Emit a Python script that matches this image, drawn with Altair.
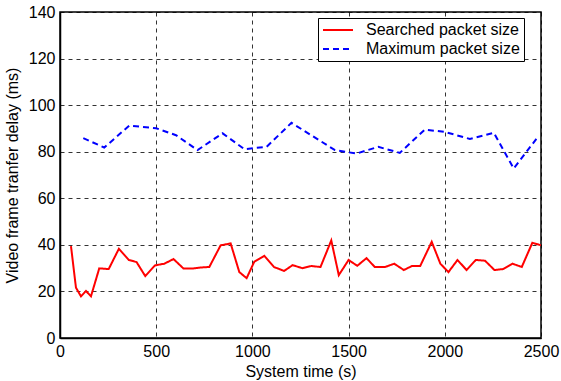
import altair as alt
import pandas as pd

# Searched packet size (red, solid)
red_t = [57, 83, 109, 135, 161, 204, 253, 306, 358, 398, 443, 494, 542, 590, 641, 693, 736, 776,
         835, 887, 932, 970, 1010, 1062, 1112, 1165, 1209, 1259, 1306, 1354, 1410, 1449, 1500, 1545,
         1593, 1636, 1690, 1737, 1787, 1829, 1872, 1932, 1977, 2019, 2066, 2113, 2161, 2209, 2258,
         2303, 2352, 2400, 2455, 2500]
red_v = [39.5, 21.6, 17.9, 20.2, 17.9, 29.9, 29.6, 38.3, 33.5, 32.6, 26.6, 31.2, 31.9, 33.9, 29.9,
         29.9, 30.3, 30.5, 39.8, 40.6, 28.3, 25.7, 32.8, 35.3, 30.5, 28.8, 31.3, 30.0, 30.9, 30.5,
         41.9, 27.0, 33.5, 31.0, 34.3, 30.5, 30.5, 31.9, 29.2, 30.9, 30.9, 41.3, 31.9, 28.3, 33.5,
         29.2, 33.5, 33.2, 29.2, 29.6, 31.9, 30.5, 40.9, 39.8]

# Maximum packet size (blue, dashed)
blue_t = [121, 230, 360, 499, 603, 715, 845, 958, 1074, 1203, 1429, 1541, 1654, 1766, 1896, 2000,
          2130, 2255, 2358, 2476]
blue_v = [85.8, 81.8, 91.2, 90.1, 87.1, 80.7, 87.9, 81.1, 82.1, 92.4, 80.7, 79.2, 82.1, 79.5, 89.5,
          88.5, 85.5, 88.1, 72.8, 85.5]

series_names = ["Searched packet size", "Maximum packet size"]

df = pd.concat([
    pd.DataFrame({"t": red_t, "v": red_v, "s": series_names[0], "o": range(len(red_t))}),
    pd.DataFrame({"t": blue_t, "v": blue_v, "s": series_names[1], "o": range(len(blue_t))}),
])

FONT = "Liberation Sans"

chart = alt.Chart(df).mark_line(strokeWidth=2, clip=True).encode(
    x=alt.X("t:Q", title="System time (s)",
            scale=alt.Scale(domain=[0, 2500], nice=False),
            axis=alt.Axis(values=[0, 500, 1000, 1500, 2000, 2500], format="d")),
    y=alt.Y("v:Q", title="Video frame tranfer delay (ms)",
            scale=alt.Scale(domain=[0, 140], nice=False),
            axis=alt.Axis(values=[0, 20, 40, 60, 80, 100, 120, 140])),
    color=alt.Color("s:N", scale=alt.Scale(domain=series_names, range=["#ff0000", "#0000ff"]),
                    legend=alt.Legend(title=None, orient="none", legendX=258, legendY=6,
                                      fillColor="white", strokeColor="black", padding=4,
                                      symbolType="stroke", symbolSize=900, symbolStrokeWidth=2,
                                      clipHeight=16,
                                      labelFont=FONT, labelFontSize=16, labelColor="black",
                                      labelOffset=12, rowPadding=3, labelLimit=300)),
    strokeDash=alt.StrokeDash("s:N", scale=alt.Scale(domain=series_names, range=[[1, 0], [6, 4]]),
                              legend=None),
    order="o:Q",
).properties(
    width=481, height=326,
    autosize=alt.AutoSizeParams(type="none"),
    padding={"left": 60, "top": 12, "right": 20, "bottom": 43},
).configure_view(
    stroke="black", strokeWidth=1.5
).configure_axis(
    grid=True, gridColor="black", gridDash=[4, 4], gridOpacity=0.8, gridWidth=1,
    domainColor="black", domainWidth=1.5,
    ticks=False, labelPadding=5, labelFlush=False, labelOverlap=False,
    labelFont=FONT, labelFontSize=16, labelColor="black",
    titleFont=FONT, titleFontSize=16, titleFontWeight="normal", titleColor="black",
).configure_axisX(
    titlePadding=4,
).configure_axisY(
    titlePadding=8,
)

chart.save("out.html", embed_options={"renderer": "svg", "actions": False})
